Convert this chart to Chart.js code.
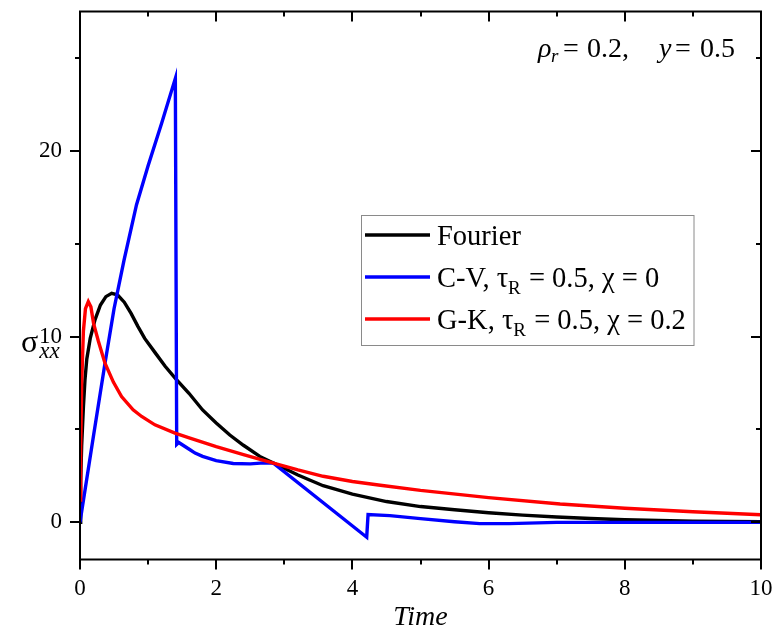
<!DOCTYPE html>
<html><head><meta charset="utf-8">
<script src="https://cdn.jsdelivr.net/npm/chart.js@4/dist/chart.umd.min.js"></script>
<style>html,body{margin:0;padding:0;background:#fff}#wrap{width:783px;height:639px;position:relative}</style>
</head><body><div id="wrap"><canvas id="c" width="783" height="639"></canvas></div>
<script>
// ---- data ----
const fourierT = [0, 0.01, 0.024, 0.05, 0.073, 0.1, 0.15, 0.22, 0.3, 0.38, 0.465, 0.55, 0.65, 0.75, 0.85, 0.95, 1.1, 1.25, 1.4, 1.6, 1.8, 2.0, 2.2, 2.4, 2.64, 2.84, 3.2, 3.57, 4.0, 4.5, 5.0, 5.5, 6.0, 6.5, 7.0, 7.5, 8.0, 9.0, 10.0];
const fourierY = [0, 2.2, 4.1, 6.2, 7.67, 8.8, 9.9, 10.9, 11.7, 12.15, 12.33, 12.25, 11.85, 11.25, 10.55, 9.9, 9.15, 8.4, 7.75, 6.95, 6.05, 5.35, 4.7, 4.15, 3.55, 3.19, 2.55, 1.97, 1.52, 1.12, 0.85, 0.68, 0.52, 0.39, 0.29, 0.21, 0.14, 0.06, 0.03];

const cvT = [0, 0.2, 0.367, 0.5, 0.646, 0.83, 1.0, 1.2, 1.40, 1.42, 1.45, 1.615, 1.69, 1.8, 2.0, 2.25, 2.5, 2.7, 2.84, 4.21, 4.23, 4.55, 5.0, 5.5, 5.87, 6.3, 7.0, 8.0, 9.0, 10.0];
const cvY = [0, 4.7, 8.57, 11.5, 14.1, 17.1, 19.2, 21.5, 23.9, 4.2, 4.3, 3.91, 3.73, 3.55, 3.32, 3.17, 3.15, 3.2, 3.19, -0.8, 0.42, 0.36, 0.2, 0.03, -0.07, -0.07, 0.0, 0.0, 0.0, 0.0];

const gkT = [0, 0.01, 0.025, 0.05, 0.08, 0.122, 0.16, 0.2, 0.27, 0.367, 0.49, 0.61, 0.78, 0.905, 1.1, 1.395, 1.615, 2.0, 2.4, 2.84, 3.2, 3.57, 4.0, 4.41, 5.0, 6.0, 7.05, 8.0, 9.0, 10.0];
const gkY = [1.2, 4.0, 7.5, 10.3, 11.5, 11.88, 11.6, 10.7, 9.75, 8.57, 7.55, 6.77, 6.06, 5.7, 5.25, 4.8, 4.54, 4.08, 3.65, 3.19, 2.82, 2.48, 2.2, 2.0, 1.72, 1.33, 0.99, 0.76, 0.57, 0.41];

const xMajor = [0, 2, 4, 6, 8, 10];
const xMinor = [1, 3, 5, 7, 9];
const yMajor = [0, 10, 20];
const yMinor = [5, 15, 25];
const seriesNames = ['Fourier', 'C-V, τR = 0.5, χ = 0', 'G-K, τR = 0.5, χ = 0.2'];
const seriesColors = ['#000000', '#0000ff', '#ff0000'];

const SERIF = '"Liberation Serif", "Times New Roman", serif';

function pts(t, y) { return t.map((v, i) => ({ x: v, y: y[i] })); }

function drawRuns(ctx, x, y, runs) {
  let cx = x;
  for (const r of runs) {
    ctx.font = r.font;
    const px = (r.at !== undefined) ? r.at : cx;
    ctx.fillText(r.t, px, y + (r.dy || 0));
    cx = px + ctx.measureText(r.t).width + (r.gap || 0);
  }
  return cx;
}

const decor = {
  id: 'decor',
  afterDatasetsDraw(chart) {
    const ctx = chart.ctx;
    const a = chart.chartArea;
    const xs = chart.scales.x, ys = chart.scales.y;
    ctx.save();
    ctx.strokeStyle = '#000';
    ctx.lineWidth = 2;
    ctx.strokeRect(a.left, a.top, a.right - a.left, a.bottom - a.top);
    ctx.beginPath();
    const MJ = 10, MN = 5;
    for (const v of xMajor.concat(xMinor)) {
      const L = xMajor.includes(v) ? MJ : MN;
      const px = Math.round(xs.getPixelForValue(v));
      ctx.moveTo(px, a.bottom); ctx.lineTo(px, a.bottom + L);
      ctx.moveTo(px, a.top); ctx.lineTo(px, a.top + L);
    }
    for (const v of yMajor.concat(yMinor)) {
      const L = yMajor.includes(v) ? MJ : MN;
      const py = Math.round(ys.getPixelForValue(v));
      ctx.moveTo(a.left, py); ctx.lineTo(a.left - L, py);
      ctx.moveTo(a.right, py); ctx.lineTo(a.right - L, py);
    }
    ctx.stroke();

    ctx.fillStyle = '#000';
    ctx.textBaseline = 'alphabetic';
    ctx.textAlign = 'left';
    // y axis title
    drawRuns(ctx, 21, 352, [
      { t: 'σ', font: '32px ' + SERIF, gap: 1 },
      { t: 'xx', font: 'italic 23px ' + SERIF, dy: 6 }
    ]);
    // x axis title
    ctx.textAlign = 'center';
    ctx.font = 'italic 28px ' + SERIF;
    ctx.fillText('Time', (a.left + a.right) / 2, 625);
    ctx.textAlign = 'left';

    // annotation
    drawRuns(ctx, 538, 57, [
      { t: 'ρ', font: 'italic 28px ' + SERIF, at: 538 },
      { t: 'r', font: 'italic 19px ' + SERIF, dy: 5, at: 551 },
      { t: '=', font: '28px ' + SERIF, at: 563 },
      { t: '0.2,', font: '28px ' + SERIF, at: 587 },
      { t: 'y', font: 'italic 28px ' + SERIF, at: 659 },
      { t: '=', font: '28px ' + SERIF, at: 675 },
      { t: '0.5', font: '28px ' + SERIF, at: 700 }
    ]);

    // legend
    ctx.strokeStyle = '#8a8a8a';
    ctx.lineWidth = 1;
    ctx.strokeRect(361.5, 215.5, 332.5, 130);
    const F = '28.5px ' + SERIF, S = '19px ' + SERIF;
    const rows = [
      [{ t: seriesNames[0], font: F }],
      [{ t: 'C-V, τ', font: F }, { t: 'R', font: S, dy: 7, gap: 1 }, { t: ' = 0.5, χ = 0', font: F }],
      [{ t: 'G-K, τ', font: F }, { t: 'R', font: S, dy: 7, gap: 1 }, { t: ' = 0.5, χ = 0.2', font: F }]
    ];
    const lineY = [235, 277, 319];
    for (let i = 0; i < 3; i++) {
      ctx.strokeStyle = seriesColors[i];
      ctx.lineWidth = 3.4;
      ctx.beginPath();
      ctx.moveTo(365, lineY[i]); ctx.lineTo(430, lineY[i]);
      ctx.stroke();
      drawRuns(ctx, 437, lineY[i] + 10, rows[i]);
    }
    ctx.restore();
  }
};

new Chart(document.getElementById('c'), {
  type: 'line',
  data: {
    datasets: [
      { label: seriesNames[0], data: pts(fourierT, fourierY), borderColor: seriesColors[0], borderWidth: 3.4, pointRadius: 0, tension: 0, order: 3 },
      { label: seriesNames[1], data: pts(cvT, cvY), borderColor: seriesColors[1], borderWidth: 3.4, pointRadius: 0, tension: 0, order: 2 },
      { label: seriesNames[2], data: pts(gkT, gkY), borderColor: seriesColors[2], borderWidth: 3.4, pointRadius: 0, tension: 0, order: 1 }
    ]
  },
  options: {
    responsive: false,
    animation: false,
    devicePixelRatio: 1,
    layout: { autoPadding: false, padding: { left: 0, top: 11.5, right: 22, bottom: 0 } },
    plugins: { legend: { display: false }, tooltip: { enabled: false } },
    scales: {
      x: {
        type: 'linear', min: 0, max: 10,
        grid: { display: false, drawTicks: false },
        border: { display: false },
        afterBuildTicks: s => { s.ticks = xMajor.map(v => ({ value: v })); },
        afterFit: s => { s.height = 79.5; s.paddingLeft = 0; s.paddingRight = 0; },
        ticks: { font: { family: SERIF, size: 23 }, color: '#000', padding: 16, maxRotation: 0, callback: v => String(v) }
      },
      y: {
        type: 'linear', min: -2, max: 27.5,
        grid: { display: false, drawTicks: false },
        border: { display: false },
        afterBuildTicks: s => { s.ticks = yMajor.map(v => ({ value: v })); },
        afterFit: s => { s.width = 80; s.paddingTop = 0; s.paddingBottom = 0; },
        ticks: { font: { family: SERIF, size: 23 }, color: '#000', padding: 18, callback: v => String(v) }
      }
    }
  },
  plugins: [decor]
});
</script></body></html>
